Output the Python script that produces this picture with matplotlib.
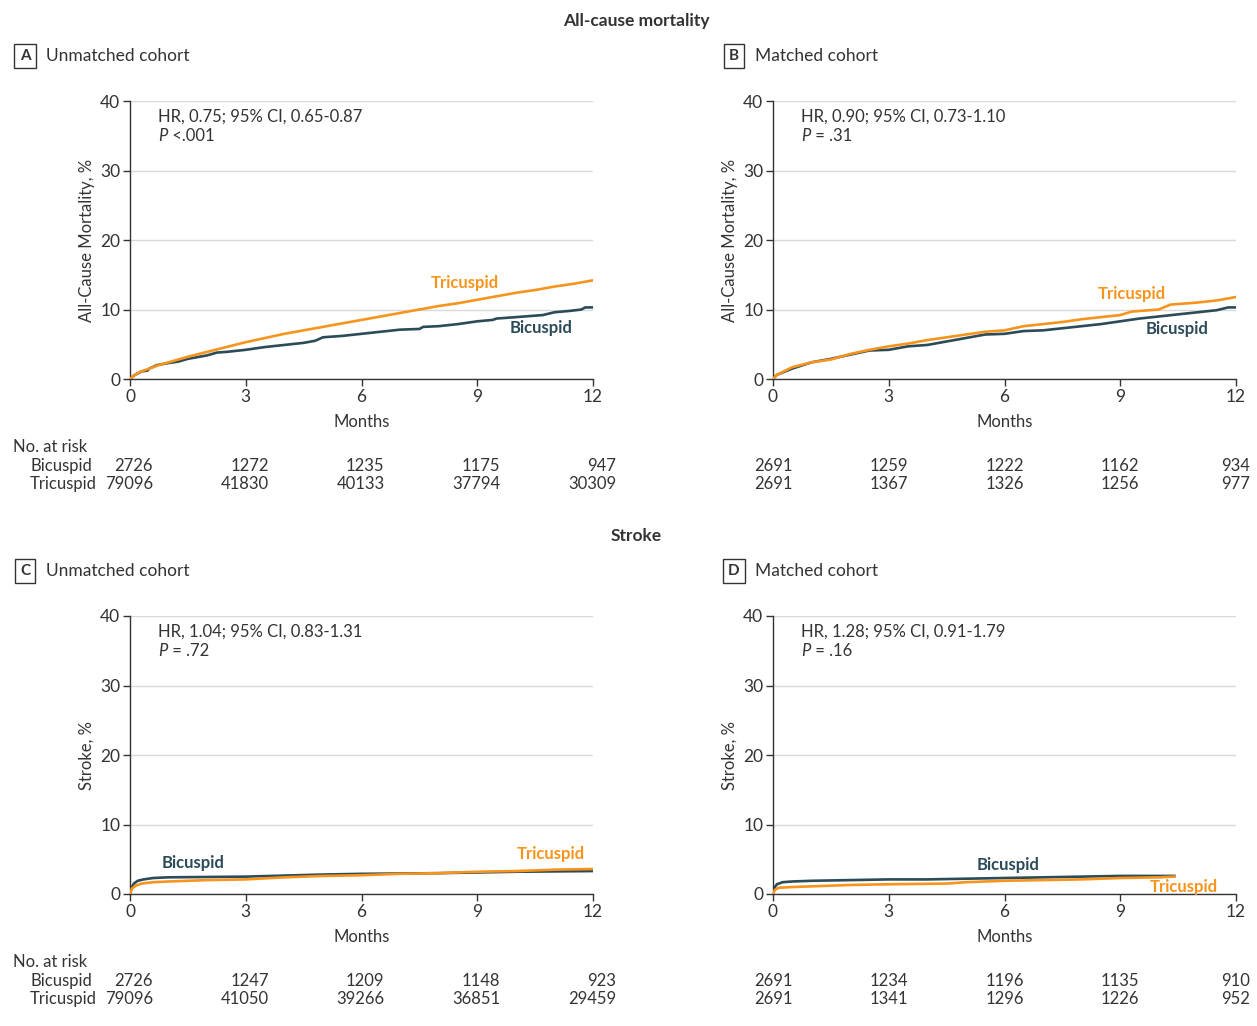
import matplotlib
matplotlib.use("Agg")
import matplotlib.pyplot as plt

plt.rcParams['font.family'] = ['Lato', 'DejaVu Sans']

# ---- data ----
months = [0, 3, 6, 9, 12]

# A: all-cause mortality, unmatched
a_tri_t = [0, 0.1, 0.25, 0.5, 0.75, 1, 1.5, 2, 2.5, 3, 3.5, 4, 4.5, 5, 5.5, 6, 6.5, 7, 7.5, 8, 8.5, 9, 9.5, 10, 10.5, 11, 11.5, 12]
a_tri_y = [0, 0.5, 1.0, 1.5, 2.0, 2.4, 3.2, 3.9, 4.6, 5.3, 5.9, 6.5, 7.0, 7.5, 8.0, 8.5, 9.0, 9.5, 10.0, 10.5, 10.9, 11.4, 11.9, 12.4, 12.8, 13.3, 13.7, 14.2]
a_bic_t = [0, 0.1, 0.3, 0.45, 0.5, 0.7, 1, 1.25, 1.5, 2, 2.25, 2.5, 3, 3.5, 4, 4.5, 4.8, 5, 5.5, 6, 6.5, 7, 7.5, 7.6, 8, 8.5, 9, 9.4, 9.5, 10, 10.7, 11, 11.4, 11.7, 11.8, 12]
a_bic_y = [0, 0.5, 1.1, 1.2, 1.5, 2.0, 2.3, 2.5, 2.9, 3.4, 3.8, 3.9, 4.2, 4.6, 4.9, 5.2, 5.5, 6.0, 6.2, 6.5, 6.8, 7.1, 7.2, 7.5, 7.6, 7.9, 8.3, 8.5, 8.7, 8.9, 9.2, 9.6, 9.8, 10.0, 10.3, 10.3]

# B: all-cause mortality, matched
b_tri_t = [0, 0.1, 0.5, 1, 1.5, 2, 2.5, 3, 3.5, 4, 4.5, 5, 5.5, 6, 6.5, 7, 7.5, 8, 8.5, 9, 9.3, 10, 10.3, 11, 11.5, 12]
b_tri_y = [0, 0.6, 1.7, 2.4, 2.8, 3.6, 4.2, 4.7, 5.1, 5.6, 6.0, 6.4, 6.8, 7.0, 7.6, 7.9, 8.2, 8.6, 8.9, 9.2, 9.7, 10.0, 10.7, 11.0, 11.3, 11.8]
b_bic_t = [0, 0.1, 0.5, 1, 1.5, 2, 2.5, 3, 3.5, 4, 4.5, 5, 5.5, 6, 6.5, 7, 7.5, 8, 8.5, 9, 9.5, 10, 10.5, 11, 11.5, 11.8, 12]
b_bic_y = [0, 0.6, 1.5, 2.4, 2.9, 3.5, 4.1, 4.2, 4.7, 4.9, 5.4, 5.9, 6.4, 6.5, 6.9, 7.0, 7.3, 7.6, 7.9, 8.3, 8.7, 9.0, 9.3, 9.6, 9.9, 10.3, 10.3]

# C: stroke, unmatched
c_bic_t = [0, 0.05, 0.1, 0.2, 0.35, 0.6, 1, 3, 5, 6, 8, 9, 10, 12]
c_bic_y = [0, 1.0, 1.5, 1.9, 2.1, 2.3, 2.4, 2.5, 2.8, 2.9, 3.0, 3.1, 3.2, 3.3]
c_tri_t = [0, 0.05, 0.15, 0.3, 0.6, 1, 2, 3, 4, 5, 6, 7, 8, 9, 10, 11, 12]
c_tri_y = [0, 0.8, 1.2, 1.5, 1.7, 1.8, 2.0, 2.1, 2.4, 2.6, 2.7, 2.9, 3.0, 3.2, 3.3, 3.5, 3.6]

# D: stroke, matched (curves stop ~10.4 mo)
d_bic_t = [0, 0.05, 0.1, 0.25, 0.5, 1, 2, 3, 4, 5, 6, 7, 8, 9, 10.4]
d_bic_y = [0, 1.0, 1.4, 1.7, 1.8, 1.9, 2.0, 2.1, 2.1, 2.2, 2.3, 2.4, 2.5, 2.6, 2.6]
d_tri_t = [0, 0.05, 0.15, 0.5, 1, 2, 3, 4.5, 5, 6, 7, 8, 9, 10, 10.4]
d_tri_y = [0, 0.6, 0.9, 1.0, 1.1, 1.3, 1.4, 1.5, 1.7, 1.9, 2.0, 2.1, 2.3, 2.4, 2.5]

risk_a = (["2726", "1272", "1235", "1175", "947"], ["79096", "41830", "40133", "37794", "30309"])
risk_b = (["2691", "1259", "1222", "1162", "934"], ["2691", "1367", "1326", "1256", "977"])
risk_c = (["2726", "1247", "1209", "1148", "923"], ["79096", "41050", "39266", "36851", "29459"])
risk_d = (["2691", "1234", "1196", "1135", "910"], ["2691", "1341", "1296", "1226", "952"])

BIC = "#2b4b58"
TRI = "#f7941d"
DARK = "#333333"
FS = 12

W, H = 1257, 1026
fig = plt.figure(figsize=(W / 100, H / 100), dpi=100)

def fx(px): return px / W
def fy(py): return 1 - py / H

def panel(left_px, top_px, letter, cohort, ylabel, hr, p, bic, tri, risk,
          lab_tri, lab_bic, show_names, right_align):
    ax = fig.add_axes([fx(left_px), fy(top_px + 278), fx(463), 278 / H])
    ax.plot(tri[0], tri[1], color=TRI, lw=1.9, zorder=3, solid_joinstyle="miter")
    ax.plot(bic[0], bic[1], color=BIC, lw=1.9, zorder=2, solid_joinstyle="miter")
    ax.set_xlim(0, 12); ax.set_ylim(0, 40)
    ax.set_xticks(months); ax.set_yticks([0, 10, 20, 30, 40])
    ax.yaxis.grid(True, color="#d9d9d9", lw=1); ax.set_axisbelow(True)
    for s in ("top", "right"): ax.spines[s].set_visible(False)
    for s in ("left", "bottom"):
        ax.spines[s].set_color(DARK); ax.spines[s].set_linewidth(1)
    ax.tick_params(colors=DARK, labelsize=12.5, length=5, width=1, pad=2)
    ax.set_xlabel("Months", fontsize=FS, color=DARK, labelpad=7)
    ax.set_ylabel(ylabel, fontsize=FS, color=DARK, labelpad=4)
    ax.text(0.73, 37.8, hr, fontsize=FS, color=DARK, va="center")
    pt = ax.text(0.73, 35.0, p[0], fontsize=FS, color=DARK, va="center", style="italic")
    ax.annotate(" " + p[1], xy=(1, 0.5), xycoords=pt, fontsize=FS, color=DARK, va="center")
    ax.text(lab_tri[0], lab_tri[1], "Tricuspid", color=TRI, fontsize=FS, fontweight="bold", ha="center", va="center")
    ax.text(lab_bic[0], lab_bic[1], "Bicuspid", color=BIC, fontsize=FS, fontweight="bold", ha="center", va="center")
    # panel header
    fig.text(fx(left_px - 105 if left_px < 500 else left_px - 39), fy(top_px - 45), letter, fontsize=11,
             fontweight="bold", color=DARK, ha="center", va="center",
             bbox=dict(boxstyle="square,pad=0.35", fc="white", ec=DARK, lw=1))
    fig.text(fx(left_px - 84 if left_px < 500 else left_px - 18), fy(top_px - 45), cohort,
             fontsize=12.5, color=DARK, ha="left", va="center")
    # risk table
    y0 = top_px + 346
    if show_names:
        fig.text(fx(13), fy(y0), "No. at risk", fontsize=FS, color=DARK, va="center")
        fig.text(fx(30), fy(y0 + 19), "Bicuspid", fontsize=FS, color=DARK, va="center")
        fig.text(fx(30), fy(y0 + 37), "Tricuspid", fontsize=FS, color=DARK, va="center")
    for j, rows in enumerate(risk):
        for m, v in zip(months, rows):
            xp = left_px + m / 12 * 463
            if right_align:
                fig.text(fx(xp + 23), fy(y0 + 19 + 18 * j), v, fontsize=FS, color=DARK, ha="right", va="center")
            else:
                fig.text(fx(xp), fy(y0 + 19 + 18 * j), v, fontsize=FS, color=DARK, ha="center", va="center")
    return ax

panel(130, 101, "A", "Unmatched cohort", "All-Cause Mortality, %", "HR, 0.75; 95% CI, 0.65-0.87",
      ("P", "<.001"), (a_bic_t, a_bic_y), (a_tri_t, a_tri_y), risk_a, (8.68, 13.8), (10.65, 7.3), True, True)
panel(773, 101, "B", "Matched cohort", "All-Cause Mortality, %", "HR, 0.90; 95% CI, 0.73-1.10",
      ("P", "= .31"), (b_bic_t, b_bic_y), (b_tri_t, b_tri_y), risk_b, (9.3, 12.2), (10.47, 7.2), False, False)
panel(130, 616, "C", "Unmatched cohort", "Stroke, %", "HR, 1.04; 95% CI, 0.83-1.31",
      ("P", "= .72"), (c_bic_t, c_bic_y), (c_tri_t, c_tri_y), risk_c, (10.9, 5.75), (1.63, 4.46), True, True)
panel(773, 616, "D", "Matched cohort", "Stroke, %", "HR, 1.28; 95% CI, 0.91-1.79",
      ("P", "= .16"), (d_bic_t, d_bic_y), (d_tri_t, d_tri_y), risk_d, (10.65, 1.0), (6.09, 4.17), False, False)

fig.text(fx(636), fy(21), "All-cause mortality", fontsize=12.5, fontweight="bold", color=DARK, ha="center", va="center")
fig.text(fx(636), fy(536), "Stroke", fontsize=12.5, fontweight="bold", color=DARK, ha="center", va="center")

fig.savefig("out.png", dpi=100, facecolor="white")
